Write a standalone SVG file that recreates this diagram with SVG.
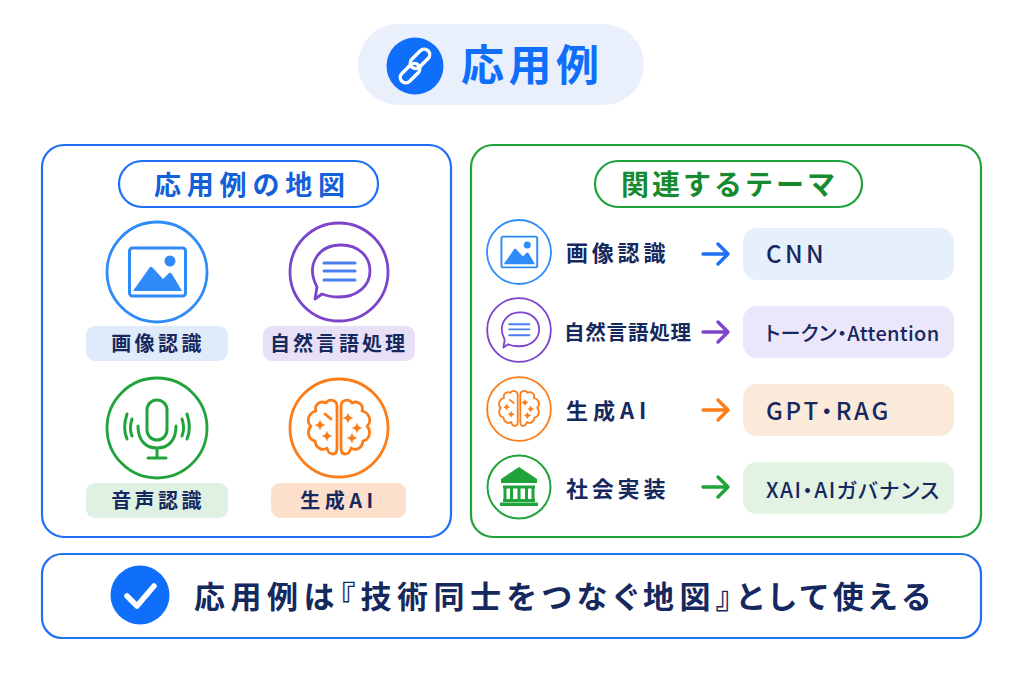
<svg xmlns="http://www.w3.org/2000/svg" xmlns:xlink="http://www.w3.org/1999/xlink" width="1024" height="683" viewBox="0 0 1024 683">
<style>
text{font-family:"Noto Sans CJK JP","Noto Sans",sans-serif;font-weight:700;fill:#15295e}
.m{text-anchor:middle}
.panel{fill:#fff;stroke-width:2.2}
.ln{fill:none;stroke-linecap:round;stroke-linejoin:round}
.blue{stroke:#1f70f2}.green{stroke:#1fa33a}
.lab{font-size:20px;letter-spacing:3.4px}
.row{font-size:22px;letter-spacing:3.8px}
.tag{font-size:24px;letter-spacing:3.5px;font-weight:500;font-feature-settings:"palt"}
.arrow{fill:none;stroke-width:3.4;stroke-linecap:round;stroke-linejoin:round}
</style>
<defs>
<g id="i-image">
<circle r="50" fill="#fff" stroke="#2f8bf8" stroke-width="2.800"/>
<rect x="-27.500" y="-24" width="56" height="48" rx="3" fill="none" stroke="#2f8bf8" stroke-width="3"/>
<path d="M-24 19 L-7 -5 Q-6 -6 -4 -4 L6 7 L12 1 Q13 0 15 2 L25 19 Z" fill="#2f8bf8"/>
<circle cx="13" cy="-11" r="5.500" fill="#2f8bf8"/>
</g>
<g id="i-speech">
<circle r="49" fill="#fff" stroke="#7c45cc" stroke-width="2.800"/>
<path class="ln" stroke="#7c45cc" stroke-width="2.800" d="M-22 15 C-34 -8 -20 -27 2 -27 C20 -27 31 -15 31 -1 C31 14 18 25 0 25 C-7 25 -12 24 -17 22 L-24 27 Z"/>
<path class="ln" stroke="#4b7ff0" stroke-width="3" d="M-15 -9H16M-15 -1H16M-15 8H16"/>
</g>
<g id="i-mic">
<circle r="50" fill="#fff" stroke="#1fa33a" stroke-width="2.800"/>
<g class="ln" stroke="#1fa33a" stroke-width="3">
<rect x="-10" y="-28" width="20" height="40" rx="10"/>
<path d="M-19 -2 C-19 13 -11 20 0 20 C11 20 19 13 19 -2M0 20V30M-9 30H9"/>
<path d="M-25 -9 C-27 -3 -27 3 -25 8M25 -9 C27 -3 27 3 25 8M-30 -14 C-33 -5 -33 4 -30 11M30 -14 C33 -5 33 4 30 11"/>
</g>
</g>
<path id="star" d="M0 -5.500 Q.9 -.9 5.500 0 Q.9 .9 0 5.500 Q-.9 .9 -5.500 0 Q-.9 -.9 0 -5.500Z" fill="#fb7d1a"/>
<g id="i-brain">
<circle r="49" fill="#fff" stroke="#fb7d1a" stroke-width="2.800"/>
<g class="ln" stroke="#fb7d1a" stroke-width="2.800">
<path d="M-2 -22 C-2 -28 -10 -30 -13 -25 C-19 -28 -25 -23 -23 -17 C-31 -15 -33 -6 -28 -2 C-33 4 -30 12 -24 13 C-23 21 -16 23 -12 20 C-10 28 -2 28 -2 20 Z"/>
<path d="M2 -22 C2 -28 10 -30 13 -25 C19 -28 25 -23 23 -17 C31 -15 33 -6 28 -2 C33 4 30 12 24 13 C23 21 16 23 12 20 C10 28 2 28 2 20 Z"/>
<path d="M-14 -14 L-8 -9"/>
</g>
<use xlink:href="#star" href="#star" x="-19" y="-3"/>
<use xlink:href="#star" href="#star" x="-12" y="8"/>
<use xlink:href="#star" href="#star" x="9" y="-10"/>
<use xlink:href="#star" href="#star" x="18" y="0"/>
<use xlink:href="#star" href="#star" x="13" y="10"/>
</g>
</defs>
<rect width="1024" height="683" fill="#fff"/>

<g id="title">
<rect x="358" y="24" width="286" height="81" rx="40.500" fill="#e9f0fc"/>
<circle cx="415" cy="66" r="28.500" fill="#0f6ffb"/>
<g transform="translate(415 66) rotate(-45)" fill="none" stroke="#fff" stroke-width="3.400">
<rect x="-20" y="-4" width="23" height="11" rx="5.500"/>
<rect x="-3" y="-7" width="23" height="11" rx="5.500"/>
</g>
<text x="461" y="81" font-size="43" letter-spacing="4.500" style="fill:#0f6ffb">応用例</text>
</g>

<g id="panel-map">
<rect class="panel blue" x="42" y="145" width="409" height="392" rx="22"/>
<rect x="119" y="161" width="259" height="46" rx="23" fill="#fff" stroke="#1f70f2" stroke-width="2.200"/>
<text x="154" y="195" font-size="27" letter-spacing="5.800" style="fill:#1460d8">応用例の地図</text>
</g>
<g id="node-image">
<use xlink:href="#i-image" href="#i-image" transform="translate(157 272)"/>
<rect x="86" y="326" width="142" height="35" rx="9" fill="#dfeafb"/>
<text class="lab m" x="158" y="351">画像認識</text>
</g>
<g id="node-nlp">
<use xlink:href="#i-speech" href="#i-speech" transform="translate(339 272)"/>
<rect x="263" y="326" width="152" height="35" rx="9" fill="#e8e0f7"/>
<text class="lab m" x="339" y="351" style="letter-spacing:3px">自然言語処理</text>
</g>
<g id="node-voice">
<use xlink:href="#i-mic" href="#i-mic" transform="translate(157 428)"/>
<rect x="86" y="483" width="142" height="35" rx="9" fill="#dff1e2"/>
<text class="lab m" x="158" y="508">音声認識</text>
</g>
<g id="node-genai">
<use xlink:href="#i-brain" href="#i-brain" transform="translate(339 428)"/>
<rect x="271" y="483" width="135" height="35" rx="9" fill="#fde0cc"/>
<text class="lab m" x="339" y="508" style="letter-spacing:4.500px">生成AI</text>
</g>

<g id="panel-related">
<rect class="panel green" x="471" y="145" width="510" height="392" rx="22"/>
<rect x="595" y="161" width="267" height="46" rx="23" fill="#fff" stroke="#1fa33a" stroke-width="2.200"/>
<text x="621" y="195" font-size="28" letter-spacing="3" style="fill:#178a30">関連するテーマ</text>
</g>
<g id="row-image">
<use xlink:href="#i-image" href="#i-image" transform="translate(519 252) scale(.64)"/>
<text class="row" x="566" y="261">画像認識</text>
<rect x="743" y="228" width="211" height="52" rx="14" fill="#e6effc"/>
<text class="tag" x="766" y="263">CNN</text>
</g>
<g id="row-nlp">
<use xlink:href="#i-speech" href="#i-speech" transform="translate(519 330) scale(.65)"/>
<text x="564" y="340" font-size="20.500" letter-spacing=".8">自然言語処理</text>
<rect x="743" y="306" width="211" height="52" rx="14" fill="#ebe6f9"/>
<text x="765" y="341" font-size="20" letter-spacing=".3" style="font-weight:500;font-feature-settings:'palt'">トークン・Attention</text>
</g>
<g id="row-genai">
<use xlink:href="#i-brain" href="#i-brain" transform="translate(519 409) scale(.65)"/>
<text class="row" x="566" y="419" style="letter-spacing:5px">生成AI</text>
<rect x="743" y="384" width="211" height="52" rx="14" fill="#fbe9da"/>
<text class="tag" x="766" y="420" style="letter-spacing:2.800px">GPT・RAG</text>
</g>
<g id="row-society">
<circle cx="519" cy="487" r="31.500" fill="#fff" stroke="#1fa33a" stroke-width="2"/>
<path d="M519 467 L537 479 V483 H501 V479 Z" fill="#1fa33a"/>
<path d="M503 487H535M505 487V500M511.500 487V500M519 487V500M526.500 487V500M533 487V500" fill="none" stroke="#1fa33a" stroke-width="3"/>
<rect x="503" y="499" width="32" height="3" fill="#1fa33a"/>
<rect x="500" y="502.500" width="38" height="3.500" fill="#1fa33a"/>
<text class="row" x="566" y="497">社会実装</text>
<rect x="743" y="462" width="211" height="52" rx="14" fill="#e2f3e4"/>
<text x="766" y="498" font-size="21" letter-spacing="1.400" style="font-weight:500;font-feature-settings:'palt'">XAI・AIガバナンス</text>
</g>

<g id="connectors">
<path class="arrow" stroke="#1f70f2" d="M703 254H728M718 244L728 254L718 264"/>
<path class="arrow" stroke="#7c45cc" d="M703 332H728M718 322L728 332L718 342"/>
<path class="arrow" stroke="#fb7d1a" d="M703 410H728M718 400L728 410L718 420"/>
<path class="arrow" stroke="#1fa33a" d="M703 487H728M718 477L728 487L718 497"/>
</g>

<g id="summary">
<rect class="panel blue" x="42" y="554" width="939" height="84" rx="20"/>
<circle cx="140" cy="595" r="29.500" fill="#0f6ffb"/>
<path d="M127 596L137 606L154 586" fill="none" stroke="#fff" stroke-width="5.500" stroke-linecap="round" stroke-linejoin="round"/>
<text x="194" y="608" font-size="31" letter-spacing="5.500" style="font-feature-settings:'palt'">応用例は『技術同士をつなぐ地図』として使える</text>
</g>
</svg>
